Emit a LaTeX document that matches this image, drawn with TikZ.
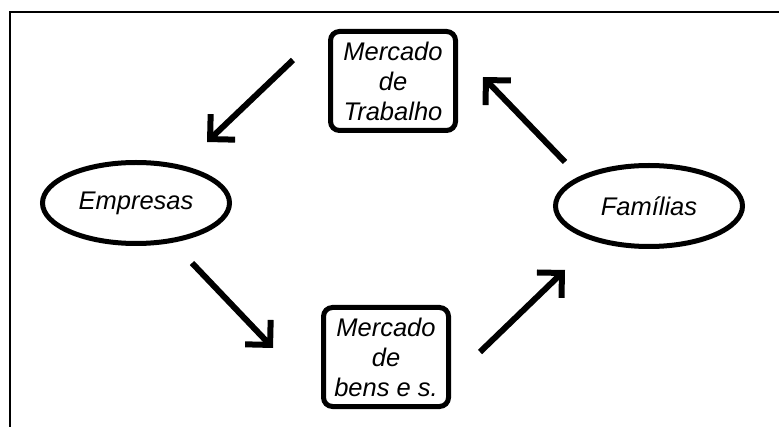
\documentclass[tikz,border=0pt]{standalone}
\usepackage{fontspec}
\setmainfont{Liberation Sans}
\usetikzlibrary{arrows.meta,shapes.geometric}

\tikzset{
  mercado/.style={draw, line width=5pt, rounded corners=9pt, minimum width=125pt,
    minimum height=99pt, align=center, inner sep=0pt, font=\fontsize{25.5}{30}\selectfont\itshape},
  agente/.style={draw, ellipse, line width=5pt, minimum width=187pt, minimum height=81pt,
    inner sep=0pt, font=\fontsize{25.5}{30}\selectfont\itshape},
  fluxo/.style={line width=6pt, -{Straight Barb[angle=90:25pt, line width=6pt]}}
}

\begin{document}
\begin{tikzpicture}[x=1pt, y=-1pt]
  \useasboundingbox (0,0) rectangle (779,427);
  \draw[line width=2.5pt] (779,12) -- (10,12) -- (10,427);

  \node[mercado] (trabalho) at (393,81) {Mercado\\de\\Trabalho};
  \node[mercado] (bens) at (386,357) {Mercado\\de\\bens e s.};
  \node[agente] (empresas) at (136,203) {Empresas};
  \node[agente] (familias) at (649,206) {Famílias};

  \coordinate (a1) at (293,60);  \coordinate (b1) at (207,142);
  \coordinate (a2) at (192,263); \coordinate (b2) at (273,348);
  \coordinate (a3) at (480,352); \coordinate (b3) at (565,270);
  \coordinate (a4) at (565,162); \coordinate (b4) at (483,77);

  \foreach \i in {1,...,4} {
    \draw[fluxo] (a\i) -- (b\i);
  }
\end{tikzpicture}
\end{document}
